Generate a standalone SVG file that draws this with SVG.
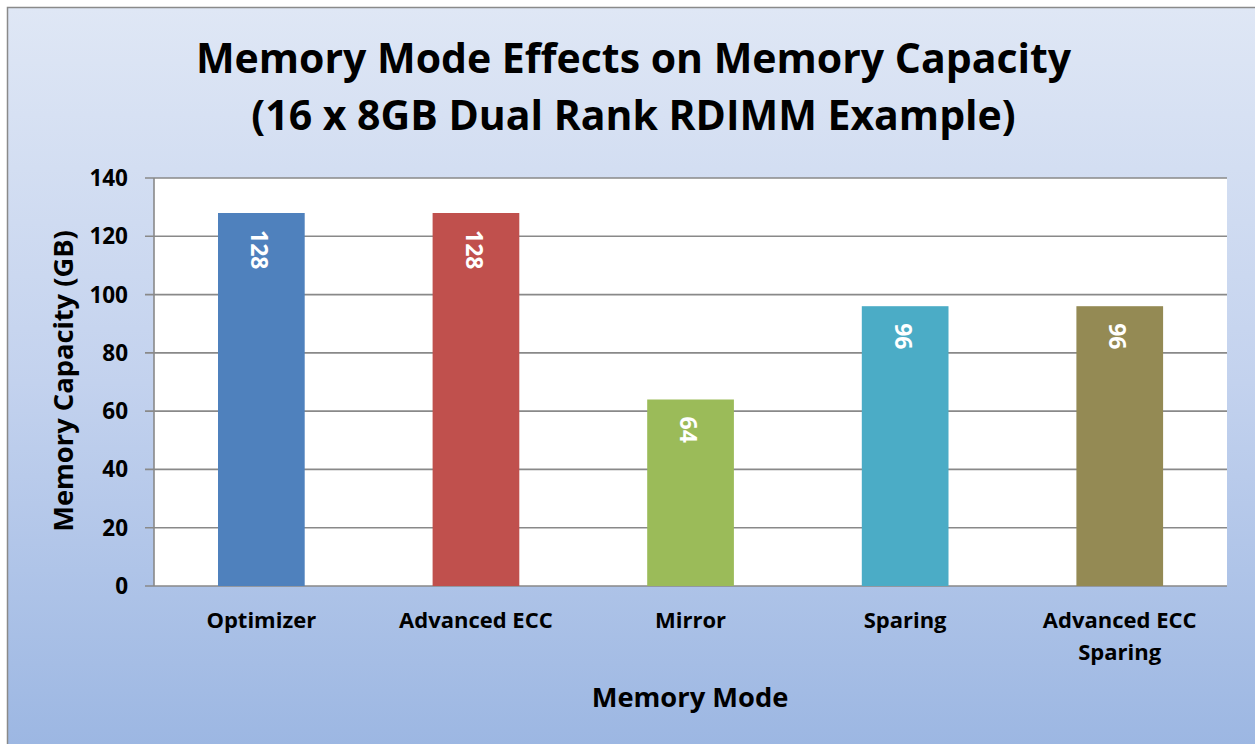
<svg xmlns="http://www.w3.org/2000/svg" width="1255" height="744" viewBox="0 0 1255 744">
  <defs>
    <linearGradient id="chartBg" x1="0" y1="0" x2="0" y2="1">
      <stop offset="0" stop-color="#dfe7f5"/>
      <stop offset="0.5" stop-color="#c3d2ee"/>
      <stop offset="1" stop-color="#9bb6e2"/>
    </linearGradient>
  </defs>
  <style>
    text { font-family: "Open Sans", "Liberation Sans", sans-serif; font-weight: bold; fill: #000; }
    .title { font-size: 41px; text-anchor: middle; }
    .axisTitle { font-size: 27.3px; text-anchor: middle; }
    .tick { font-size: 22.5px; text-anchor: end; }
    .cat { font-size: 22px; text-anchor: middle; }
    .val { font-size: 23px; fill: #fff; }
    .grid { stroke: #898989; stroke-width: 1.6; fill: none; }
  </style>

  <!-- chart area -->
  <rect x="0" y="0" width="1255" height="744" fill="#ffffff"/>
  <rect x="7.5" y="7.5" width="1260" height="750" fill="url(#chartBg)" stroke="#8a8a8a" stroke-width="1.5"/>

  <!-- title -->
  <g id="title">
    <text class="title" x="633.5" y="73">Memory Mode Effects on Memory Capacity</text>
    <text class="title" x="633.5" y="130">(16 x 8GB Dual Rank RDIMM Example)</text>
  </g>

  <!-- plot area -->
  <rect x="154" y="178" width="1073" height="408" fill="#ffffff"/>

  <g id="gridlines">
    <path class="grid" d="M145 178H1227M145 236.3H1227M145 294.6H1227M145 352.9H1227M145 411.1H1227M145 469.4H1227M145 527.7H1227M145 586H1227M154 178V586"/>
  </g>

  <g id="y-axis">
    <text class="tick" x="128" y="186">140</text>
    <text class="tick" x="128" y="244.3">120</text>
    <text class="tick" x="128" y="302.6">100</text>
    <text class="tick" x="128" y="360.9">80</text>
    <text class="tick" x="128" y="419.1">60</text>
    <text class="tick" x="128" y="477.4">40</text>
    <text class="tick" x="128" y="535.7">20</text>
    <text class="tick" x="128" y="594">0</text>
    <text class="axisTitle" transform="translate(73,381) rotate(-90)">Memory Capacity (GB)</text>
  </g>

  <g id="bar-optimizer">
    <rect x="218" y="213" width="86.7" height="373" fill="#4f81bd"/>
    <text class="val" transform="translate(251,230) rotate(90)">128</text>
    <text class="cat" x="261.3" y="628">Optimizer</text>
  </g>
  <g id="bar-advanced-ecc">
    <rect x="432.6" y="213" width="86.7" height="373" fill="#c0504d"/>
    <text class="val" transform="translate(465.6,230) rotate(90)">128</text>
    <text class="cat" x="475.9" y="628">Advanced ECC</text>
  </g>
  <g id="bar-mirror">
    <rect x="647.2" y="399.5" width="86.7" height="186.5" fill="#9bbb59"/>
    <text class="val" transform="translate(680.2,416.5) rotate(90)">64</text>
    <text class="cat" x="690.5" y="628">Mirror</text>
  </g>
  <g id="bar-sparing">
    <rect x="861.8" y="306.2" width="86.7" height="279.8" fill="#4bacc6"/>
    <text class="val" transform="translate(894.8,323.2) rotate(90)">96</text>
    <text class="cat" x="905.1" y="628">Sparing</text>
  </g>
  <g id="bar-advanced-ecc-sparing">
    <rect x="1076.4" y="306.2" width="86.7" height="279.8" fill="#948a54"/>
    <text class="val" transform="translate(1109.4,323.2) rotate(90)">96</text>
    <text class="cat" x="1119.7" y="628">Advanced ECC</text>
    <text class="cat" x="1119.7" y="660">Sparing</text>
  </g>

  <text class="axisTitle" x="690" y="707">Memory Mode</text>
</svg>
